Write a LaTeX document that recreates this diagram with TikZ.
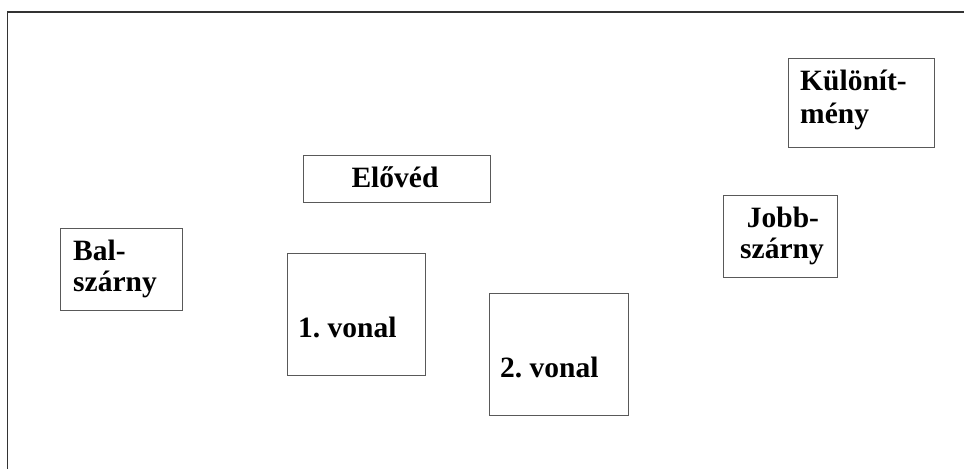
\documentclass[tikz,border=0pt]{standalone}
\usepackage{fontspec}
\setmainfont{Liberation Serif}
\tikzset{
  box/.style={draw=black!65, line width=1pt, rectangle, inner sep=0pt, fill=none},
  lbl/.style={inner sep=0pt, font=\fontsize{29.5}{34}\selectfont\bfseries},
  frame/.style={draw=black!80, line width=1.6pt}
}
\begin{document}
\begin{tikzpicture}[x=1pt,y=-1pt]
\useasboundingbox (0,0) rectangle (964,469);
% frame (top and left edges)
\coordinate (ftr) at (964,12);
\coordinate (ftl) at (7.5,12);
\coordinate (fbl) at (7.5,469);
\draw[frame] (ftr) -- (ftl) -- (fbl);
% boxes
\node[box, minimum width=146pt, minimum height=89pt] (kulbox) at (861,102.5) {};
\node[lbl, anchor=base west] (kul1) at (800,90) {Különít-};
\node[lbl, anchor=base west] (kul2) at (800,123) {mény};

\node[box, minimum width=122pt, minimum height=82pt] (balbox) at (121,269) {};
\node[lbl, anchor=base west] (bal1) at (73,260) {Bal-};
\node[lbl, anchor=base west] (bal2) at (73,291) {szárny};

\node[box, minimum width=187pt, minimum height=47pt] (elobox) at (396.5,178.5) {};
\node[lbl, anchor=base] (elo) at (395,187) {Elővéd};

\node[box, minimum width=114pt, minimum height=82pt] (jobbbox) at (780,236) {};
\node[lbl, anchor=base] (jobb1) at (783,227) {Jobb-};
\node[lbl, anchor=base] (jobb2) at (782,258) {szárny};

\node[box, minimum width=138pt, minimum height=122pt] (v1box) at (356,314) {};
\node[lbl, anchor=base west] (v1) at (298,337) {1.\ vonal};

\node[box, minimum width=139pt, minimum height=122pt] (v2box) at (558.5,354) {};
\node[lbl, anchor=base west] (v2) at (500,377) {2.\ vonal};
\end{tikzpicture}
\end{document}
